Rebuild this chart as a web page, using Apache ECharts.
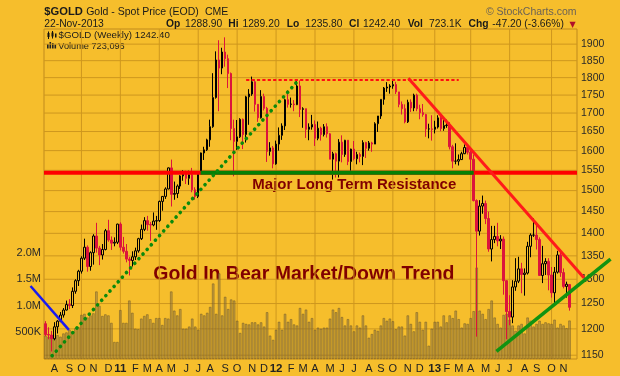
<!DOCTYPE html>
<html>
<head>
<meta charset="utf-8">
<script src="https://cdn.jsdelivr.net/npm/echarts@6/dist/echarts.min.js"></script>
<style>
html, body { margin: 0; padding: 0; background: #F6BE2C; }
#chart { width: 620px; height: 376px; }
</style>
</head>
<body>
<div id="chart"></div>
<script>
// weekly bars, first one ends on this Friday
var firstWeek = '2010-07-16';
var blankWeeks = 2;

var opens = [1210,1189,1188,1181,1204,1215,1227,1237,1248,1246,
  1275,1297,1317,1345,1369,1327,1357,1394,1367,1352,
  1364,1406,1385,1378,1380,1421,1369,1360,1343,1340,
  1348,1361,1388,1409,1429,1420,1419,1428,1429,1474,
  1486,1504,1556,1491,1493,1511,1536,1542,1530,1539,
  1502,1486,1542,1594,1602,1628,1663,1743,1852,1828,
  1876,1856,1812,1658,1624,1636,1683,1642,1745,1753,
  1788,1724,1687,1746,1713,1598,1607,1566,1617,1640,
  1665,1737,1724,1725,1723,1776,1710,1712,1656,1662,
  1669,1632,1659,1642,1663,1644,1578,1592,1573,1622,
  1590,1627,1572,1604,1579,1590,1585,1621,1606,1620,
  1617,1671,1692,1738,1770,1773,1776,1780,1759,1724,
  1712,1676,1730,1714,1750,1712,1701,1696,1657,1657,
  1656,1662,1687,1658,1666,1667,1610,1573,1573,1577,
  1592,1608,1596,1578,1476,1405,1463,1469,1434,1365,
  1386,1393,1383,1387,1297,1234,1223,1284,1296,1322,
  1310,1313,1371,1396,1396,1386,1308,1333,1338,1309,
  1272,1315,1352,1314,1285,1288.9];
var highs = [1215,1203,1196,1213,1217,1233,1241,1256,1259,1283,
  1300,1320,1349,1388,1373,1360,1398,1424,1372,1376,
  1410,1431,1393,1391,1422,1425,1392,1376,1348,1360,
  1368,1390,1420,1437,1440,1426,1448,1440,1476,1487,
  1508,1557,1577,1522,1515,1538,1550,1549,1549,1556,
  1508,1544,1595,1610,1631,1682,1813,1878,1912,1889,
  1921,1868,1815,1682,1681,1686,1685,1748,1767,1803,
  1795,1725,1764,1754,1717,1622,1612,1626,1661,1672,
  1740,1764,1743,1736,1790,1792,1716,1712,1672,1695,
  1680,1677,1663,1670,1672,1646,1597,1595,1630,1640,
  1628,1627,1605,1625,1597,1595,1627,1623,1625,1623,
  1675,1692,1738,1773,1787,1781,1795,1788,1759,1732,
  1724,1737,1738,1754,1754,1723,1725,1698,1671,1694,
  1679,1694,1696,1683,1682,1675,1615,1619,1590,1597,
  1616,1611,1606,1590,1479,1477,1488,1476,1450,1417,
  1417,1424,1396,1393,1298,1267,1298,1345,1348,1335,
  1323,1381,1400,1434,1420,1391,1372,1345,1345,1326,
  1326,1361,1362,1323,1295,1289.2];
var lows = [1186,1180,1157,1178,1191,1213,1222,1236,1239,1241,
  1270,1286,1312,1341,1316,1318,1331,1357,1330,1342,
  1362,1381,1363,1371,1376,1362,1355,1336,1308,1327,
  1341,1357,1385,1405,1406,1383,1416,1408,1426,1452,
  1480,1503,1462,1478,1482,1504,1524,1516,1514,1496,
  1478,1482,1540,1576,1599,1610,1660,1740,1705,1810,
  1832,1770,1627,1535,1602,1633,1604,1621,1668,1748,
  1704,1676,1685,1707,1571,1587,1555,1564,1600,1628,
  1654,1715,1715,1705,1722,1689,1660,1633,1627,1655,
  1612,1627,1626,1637,1634,1578,1527,1532,1532,1570,
  1584,1563,1549,1575,1565,1570,1563,1581,1600,1597,
  1617,1649,1684,1723,1759,1754,1768,1753,1716,1696,
  1672,1673,1703,1705,1705,1683,1690,1636,1632,1626,
  1645,1658,1651,1652,1660,1603,1555,1565,1562,1576,
  1591,1590,1539,1474,1185,1395,1445,1421,1359,1338,
  1378,1371,1365,1268,1180,1207,1211,1276,1292,1271,
  1266,1310,1347,1392,1364,1307,1292,1309,1277,1262,
  1251,1312,1305,1281,1262,1235.8];
var closes = [1189,1188,1181,1204,1215,1227,1237,1248,1246,1275,
  1297,1317,1345,1369,1327,1357,1394,1367,1352,1364,
  1406,1385,1378,1380,1421,1369,1360,1343,1340,1348,
  1361,1388,1409,1429,1420,1419,1428,1429,1474,1486,
  1504,1556,1491,1493,1511,1536,1542,1530,1539,1502,
  1486,1542,1594,1602,1628,1663,1743,1852,1828,1876,
  1856,1812,1658,1624,1636,1683,1642,1745,1753,1788,
  1724,1687,1746,1713,1598,1607,1566,1617,1640,1665,
  1737,1724,1725,1723,1776,1710,1712,1656,1662,1669,
  1632,1659,1642,1663,1644,1578,1592,1573,1622,1590,
  1627,1572,1604,1579,1590,1585,1621,1606,1620,1617,
  1671,1692,1738,1770,1773,1776,1780,1759,1724,1712,
  1676,1730,1714,1750,1712,1701,1696,1657,1657,1656,
  1662,1687,1658,1666,1667,1610,1573,1573,1577,1592,
  1608,1596,1578,1476,1405,1463,1469,1434,1365,1386,
  1393,1383,1387,1297,1234,1223,1284,1296,1322,1310,
  1313,1371,1396,1396,1386,1308,1333,1338,1309,1272,
  1315,1352,1314,1285,1289.6,1242.4];
// weekly volume, millions
var volumes = [0.44,0.42,0.45,0.40,0.45,0.42,0.48,0.50,0.55,0.52,
  0.58,0.60,0.83,0.85,0.78,0.82,0.86,1.27,1.00,0.81,
  0.84,0.82,0.68,0.32,0.32,0.92,0.68,0.68,1.10,0.87,
  0.57,0.56,0.76,0.81,0.84,0.75,0.68,0.77,0.77,0.64,
  0.77,0.76,1.27,0.91,0.82,0.94,0.57,0.57,0.61,0.76,
  0.61,0.55,0.85,0.82,0.87,0.98,1.42,0.85,1.61,0.82,
  1.17,0.94,1.12,1.10,0.72,0.49,0.68,0.66,0.65,0.69,
  0.69,0.65,0.69,0.61,0.88,0.44,0.36,0.55,0.70,0.55,
  0.85,0.70,0.75,0.65,0.63,0.96,0.85,0.93,0.70,0.77,
  0.55,0.59,0.57,0.59,0.59,0.76,0.93,0.88,0.96,0.79,
  0.63,0.75,0.63,0.52,0.63,0.59,0.82,0.63,0.40,0.47,
  0.55,0.53,0.63,0.77,0.72,0.76,0.71,0.56,0.61,0.61,
  0.44,0.82,0.66,0.52,0.88,0.70,0.55,0.70,0.25,0.57,
  0.70,0.70,0.61,0.82,0.69,0.82,0.77,0.91,0.75,0.59,
  0.67,0.66,0.77,0.90,1.72,0.91,0.85,0.75,0.94,1.10,
  0.78,0.66,0.59,0.83,0.85,0.74,0.63,0.53,0.63,0.66,
  0.48,0.78,0.72,0.61,0.66,0.72,0.66,0.69,0.67,0.66,
  0.74,0.59,0.66,0.63,0.58,0.723096];

var priceTicks = [1150,1200,1250,1300,1350,1400,1450,1500,1550,1600,1650,1700,1750,1800,1850,1900];
var priceMin = 1143, priceMax = 1947;
var volumeTicks = [500000, 1000000, 1500000, 2000000];
var volumeMax = 6210000;
var monthLetters = ['J','F','M','A','M','J','J','A','S','O','N','D'];

// hand-drawn markup, [week index, price]
var resistancePrice = 1544;
var resistanceGreen = [51.8, 143];
var riseDotted = [[2.2, 1149], [83.9, 1787]];
var topDashed = [[67, 1793], [138, 1793]];
var downTrend = [[121.2, 1798], [179.8, 1303]];
var blueLine = [[-5, 1286], [7.8, 1198]];
var newSupport = [[150.6, 1157], [188.7, 1343]];

var BG = '#F6BE2C';
var GRID = '#CE971E';
var RED = '#DC143C';
var FONT = '"Liberation Sans", Arial, sans-serif';
var DARKRED = '#800000';

var W = 620, H = 376, gL = 44, gR = 43, gT = 29, gB = 17;
var ln = Math.log;
var last = closes.length - 1;

// dates and month starts (week whose Monday falls in a new month)
var t0 = Date.parse(firstWeek + 'T00:00:00Z');
var weekDates = [];
for (var i = 0; i < closes.length; i++) weekDates.push(new Date(t0 + i * 7 * 86400000));
var categories = weekDates.map(function (d) { return d.toISOString().slice(0, 10); });
for (var b = 0; b < blankWeeks; b++) categories.push('');
function mondayMonth(k) { return new Date(weekDates[k].getTime() - 4 * 86400000).getUTCMonth(); }
var monthStart = {};
for (i = 1; i < weekDates.length; i++) {
  if (mondayMonth(i) !== mondayMonth(i - 1)) monthStart[i] = mondayMonth(i);
}
var quarterStarts = Object.keys(monthStart).map(Number).filter(function (k) { return monthStart[k] % 3 === 0; });

var candleData = closes.map(function (c, k) {
  var prev = k > 0 ? closes[k - 1] : opens[k];
  var stroke = c >= prev ? '#000000' : RED;
  var fill = c > opens[k] ? BG : stroke;
  return {
    value: [ln(opens[k]), ln(c), ln(lows[k]), ln(highs[k])],
    itemStyle: { color: fill, color0: fill, borderColor: stroke, borderColor0: stroke }
  };
});

// a second, full-canvas grid whose scales line up with the plot, so markup can run past the frame
var nCat = categories.length;
var plotW = W - gL - gR, plotH = H - gT - gB;
var yLo = ln(priceMin), yHi = ln(priceMax);
var fullX = [-0.5 - gL * nCat / plotW, nCat - 0.5 + gR * nCat / plotW];
var fullY = [yLo - gB * (yHi - yLo) / plotH, yHi + gT * (yHi - yLo) / plotH];

function pts(arr) { return arr.map(function (p) { return [p[0], ln(p[1])]; }); }
function markup(data, style) {
  return {
    type: 'line', xAxisIndex: 2, yAxisIndex: 2, data: pts(data),
    symbol: 'none', silent: true, z: 5, lineStyle: style
  };
}
function gridSeries(data) {
  return {
    type: 'line', xAxisIndex: 1, yAxisIndex: 0, data: data,
    symbol: 'none', silent: true, z: 1,
    lineStyle: { color: GRID, width: 1 }
  };
}

var chg = closes[last] - closes[last - 1];
var chgPct = chg / closes[last - 1] * 100;
var volLast = Math.round(volumes[last] * 1e6);

function txt(x, y, text, font, fill, align) {
  return { type: 'text', x: x, y: y, silent: true,
    style: { text: text, font: font, fill: fill || '#1a1a1a', align: align || 'left', verticalAlign: 'middle' } };
}
function box(x, y, w, h, fill) {
  return { type: 'rect', silent: true, shape: { x: x, y: y, width: w, height: h }, style: { fill: fill } };
}
function stick(x, y1, y2) {
  return { type: 'line', silent: true, shape: { x1: x, y1: y1, x2: x, y2: y2 }, style: { stroke: '#111', lineWidth: 1 } };
}

var f105 = '10.5px ' + FONT;
var f10 = '10.3px ' + FONT, b10 = 'bold 10.3px ' + FONT;
var hidden = { axisLine: { show: false }, axisTick: { show: false }, axisLabel: { show: false }, splitLine: { show: false } };

var series = [];
// one short series per grid line
priceTicks.forEach(function (p) { series.push(gridSeries([[-0.5, ln(p)], [nCat - 0.5, ln(p)]])); });
quarterStarts.forEach(function (k) { series.push(gridSeries([[k, yLo], [k, yHi]])); });

series.push({
  name: 'Volume',
  type: 'bar',
  xAxisIndex: 0,
  yAxisIndex: 1,
  data: volumes.map(function (v) { return v * 1e6; }),
  barWidth: 2.4,
  silent: true,
  itemStyle: { color: 'rgba(150,124,70,0.5)', borderColor: 'rgba(105,85,40,0.8)', borderWidth: 0.6 },
  z: 2
}, {
  name: '$GOLD',
  type: 'candlestick',
  xAxisIndex: 0,
  yAxisIndex: 0,
  data: candleData,
  barWidth: 2,
  silent: true,
  itemStyle: { borderWidth: 1 },
  z: 3
},
  markup([[-0.5, resistancePrice], [nCat - 0.5, resistancePrice]], { color: '#FF0000', width: 4 }),
  markup([[resistanceGreen[0], resistancePrice], [resistanceGreen[1], resistancePrice]], { color: '#058005', width: 4 }),
  markup(riseDotted, { color: '#0B8A0B', width: 3.6, type: [0.1, 6.1], cap: 'round' }),
  markup(topDashed, { color: '#FF1010', width: 2, type: [3.2, 2.2] }),
  markup(downTrend, { color: '#FF1A1A', width: 3 }),
  markup(blueLine, { color: '#1A1AF0', width: 2.5 }),
  markup(newSupport, { color: '#119311', width: 3.5 })
);

var option = {
  backgroundColor: BG,
  animation: false,
  grid: [
    { left: gL, right: gR, top: gT, bottom: gB, show: true, borderColor: '#C08A1C', borderWidth: 1 },
    { left: 0, right: 0, top: 0, bottom: 0 }
  ],
  xAxis: [{
    type: 'category',
    gridIndex: 0,
    data: categories,
    boundaryGap: true,
    axisLine: { show: false },
    axisTick: { show: false },
    splitLine: { show: false },
    axisLabel: {
      margin: 4,
      color: '#222',
      fontFamily: FONT,
      fontSize: 11,
      interval: function (index) { return monthStart[index] !== undefined; },
      formatter: function (value, index) {
        var m = monthStart[index];
        if (m === undefined) return '';
        if (m === 0) return '{y|' + String(weekDates[index].getUTCFullYear()).slice(2) + '}';
        return monthLetters[m];
      },
      rich: { y: { fontWeight: 'bold', fontSize: 11.5, fontFamily: FONT, color: '#222' } }
    }
  }, Object.assign({ type: 'value', gridIndex: 0, min: -0.5, max: nCat - 0.5, position: 'top' }, hidden),
     Object.assign({ type: 'value', gridIndex: 1, min: fullX[0], max: fullX[1] }, hidden)],
  yAxis: [{
    type: 'value',
    gridIndex: 0,
    position: 'right',
    min: yLo,
    max: yHi,
    axisLine: { show: false },
    axisTick: { show: false },
    splitLine: { show: false },
    axisLabel: {
      customValues: priceTicks.map(ln),
      margin: 4,
      color: '#2a2a2a',
      fontFamily: FONT,
      fontSize: 10.5,
      formatter: function (v) { return String(Math.round(Math.exp(v))); }
    }
  }, {
    type: 'value',
    gridIndex: 0,
    position: 'left',
    min: 0,
    max: volumeMax,
    axisLine: { show: false },
    axisTick: { show: false },
    splitLine: { show: false },
    axisLabel: {
      customValues: volumeTicks,
      margin: 3,
      color: '#2a2a2a',
      fontFamily: FONT,
      fontSize: 11,
      formatter: function (v) { return v >= 1e6 ? (v / 1e6).toFixed(1) + 'M' : (v / 1e3) + 'K'; }
    }
  }, Object.assign({ type: 'value', gridIndex: 1, min: fullY[0], max: fullY[1] }, hidden)],
  series: series,
  graphic: [
    txt(44.3, 12, '$GOLD', 'bold 11.2px ' + FONT),
    txt(86.2, 12, 'Gold - Spot Price (EOD)', f105),
    txt(205, 12, 'CME', f105),
    txt(576.5, 12, '\u00A9 StockCharts.com', f105, '#6a6256', 'right'),
    txt(44.3, 24, '22-Nov-2013', f10),
    txt(166.1, 24, 'Op', b10), txt(185, 24, opens[last].toFixed(2), f10),
    txt(228.2, 24, 'Hi', b10), txt(242.4, 24, highs[last].toFixed(2), f10),
    txt(286.7, 24, 'Lo', b10), txt(305.3, 24, lows[last].toFixed(2), f10),
    txt(349.1, 24, 'Cl', b10), txt(363, 24, closes[last].toFixed(2), f10),
    txt(407.7, 24, 'Vol', b10), txt(429, 24, (volumes[last] * 1000).toFixed(1) + 'K', f10),
    txt(468.6, 24, 'Chg', b10),
    txt(492.3, 24, chg.toFixed(2) + ' (' + chgPct.toFixed(2) + '%)', f10),
    txt(569.5, 24.5, '\u25BC', '8px "DejaVu Sans"', '#B0102A'),
    // legend: price
    stick(48.5, 31.5, 39), box(47.5, 33, 2, 4, '#111'),
    stick(52.5, 31, 38.5), box(51.5, 32.5, 2, 4, '#111'),
    box(55, 33.5, 1.5, 4, '#111'),
    txt(58.5, 35.5, '$GOLD (Weekly) ' + closes[last].toFixed(2), '9.7px ' + FONT),
    // legend: volume
    box(47, 44, 1.6, 4.5, '#222'),
    box(49.5, 42, 1.6, 6.5, '#222'),
    box(52, 43, 1.6, 5.5, '#222'),
    box(54.5, 44.5, 1.6, 4, '#222'),
    txt(58.3, 46.5, 'Volume ' + volLast.toLocaleString('en-US'), '9.2px ' + FONT),
    // annotations
    txt(252.3, 185, 'Major Long Term Resistance', 'bold 15px ' + FONT, DARKRED),
    txt(153.3, 275, 'Gold In Bear Market/Down Trend', 'bold 19.5px ' + FONT, DARKRED)
  ]
};

var chart = echarts.init(document.getElementById('chart'));
chart.setOption(option);
</script>
</body>
</html>
